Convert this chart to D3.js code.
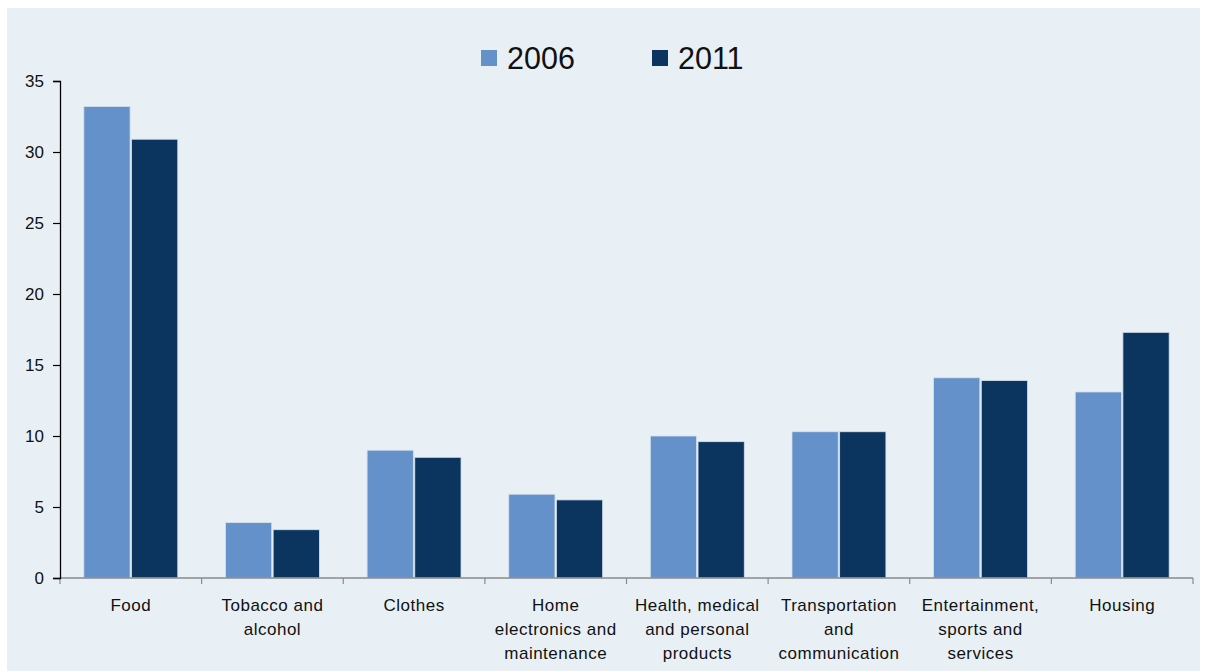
<!DOCTYPE html>
<html>
<head>
<meta charset="utf-8">
<script src="https://cdn.jsdelivr.net/npm/d3@7"></script>
<style>
  body { margin: 0; background: #fff; }
  text { font-family: Arial, "Liberation Sans", sans-serif; fill: #111; }
</style>
</head>
<body>
<svg id="chart" width="1207" height="671"></svg>
<script>
var categories = [
  ["Food"],
  ["Tobacco and", "alcohol"],
  ["Clothes"],
  ["Home", "electronics and", "maintenance"],
  ["Health, medical", "and personal", "products"],
  ["Transportation", "and", "communication"],
  ["Entertainment,", "sports and", "services"],
  ["Housing"]
]
var seriesNames = ["2006", "2011"]
var values2006 = [33.2, 3.9, 9.0, 5.9, 10.0, 10.3, 14.1, 13.1]
var values2011 = [30.9, 3.4, 8.5, 5.5, 9.6, 10.3, 13.9, 17.3]
var yTicks = [0, 5, 10, 15, 20, 25, 30, 35]

var colors = { "2006": "#6591cb", "2011": "#0b355f" }

var svg = d3.select("#chart")

// panel background
svg.append("rect")
  .attr("x", 7).attr("y", 8)
  .attr("width", 1193).attr("height", 663)
  .attr("fill", "#e9f0f5")

// note: "top" is taken by window.top, so use plot* names
var plotLeft = 60, plotRight = 1193, plotTop = 81, plotBottom = 578

var catIdx = categories.map((d, i) => i)
var x0 = d3.scaleBand().domain(catIdx).range([plotLeft, plotRight]).padding(0)
var x1 = d3.scaleBand().domain(seriesNames).range([0, x0.bandwidth()])
  .paddingInner(0.03).paddingOuter(0.5)
var y = d3.scaleLinear().domain([0, 35]).range([plotBottom, plotTop])

var data = catIdx.map(i => ({ i: i, vals: [
  { key: "2006", v: values2006[i] },
  { key: "2011", v: values2011[i] }
]}))

// bars
var groups = svg.append("g").selectAll("g")
  .data(data).enter().append("g")
  .attr("transform", d => "translate(" + x0(d.i) + ",0)")

groups.selectAll("rect")
  .data(d => d.vals).enter().append("rect")
  .attr("x", d => x1(d.key))
  .attr("y", d => y(d.v))
  .attr("width", x1.bandwidth())
  .attr("height", d => y(0) - y(d.v))
  .attr("fill", d => colors[d.key])
  .attr("stroke", "#d5e0ea")
  .attr("stroke-width", 0.8)

// x axis
var xAxis = svg.append("g")
xAxis.append("line")
  .attr("x1", plotLeft).attr("x2", plotRight)
  .attr("y1", plotBottom).attr("y2", plotBottom)
  .attr("stroke", "#8a8a8a").attr("stroke-width", 1.5)
xAxis.selectAll("line.tick")
  .data(catIdx.concat([categories.length])).enter().append("line")
  .attr("class", "tick")
  .attr("x1", d => d < categories.length ? x0(d) : plotRight)
  .attr("x2", d => d < categories.length ? x0(d) : plotRight)
  .attr("y1", plotBottom).attr("y2", plotBottom + 6)
  .attr("stroke", "#8a8a8a").attr("stroke-width", 1.2)

var labels = xAxis.selectAll("text.cat")
  .data(data).enter().append("text")
  .attr("class", "cat")
  .attr("text-anchor", "middle")
  .attr("font-size", "17px")
  .attr("letter-spacing", "0.5px")
  .attr("x", d => x0(d.i) + x0.bandwidth() / 2)
labels.selectAll("tspan")
  .data(d => categories[d.i]).enter().append("tspan")
  .attr("x", function() { return d3.select(this.parentNode).attr("x") })
  .attr("y", (d, j) => 611 + j * 24)
  .text(d => d)

// y axis
var yAxis = svg.append("g")
  .attr("transform", "translate(" + plotLeft + ",0)")
  .call(d3.axisLeft(y).tickValues(yTicks).tickSize(7).tickPadding(9))
yAxis.select(".domain").attr("stroke", "#000").attr("stroke-width", 1.3)
yAxis.selectAll(".tick line").attr("stroke", "#000").attr("stroke-width", 1.2)
yAxis.selectAll(".tick text")
  .attr("font-size", "17px")
  .attr("font-family", "Arial, 'Liberation Sans', sans-serif")
  .attr("fill", "#111")

// legend
var legendX = [481, 652]
var legend = svg.append("g").selectAll("g")
  .data(seriesNames).enter().append("g")
  .attr("transform", (d, i) => "translate(" + legendX[i] + ",50)")
legend.append("rect")
  .attr("width", 16).attr("height", 16)
  .attr("fill", d => colors[d])
legend.append("text")
  .attr("x", 26).attr("y", 19)
  .attr("font-size", "30.5px")
  .text(d => d)
</script>
</body>
</html>
